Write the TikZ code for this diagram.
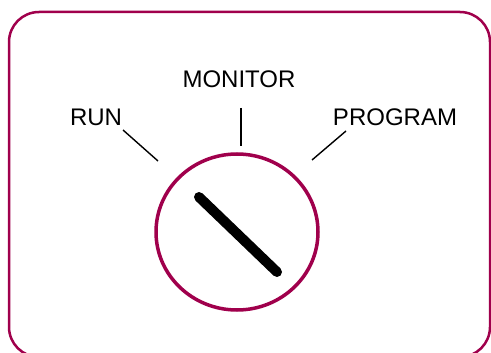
\documentclass[tikz,border=0pt]{standalone}
\usepackage{fontspec}
\setmainfont{Liberation Sans}
\usepackage{tikz}
\usetikzlibrary{shapes.geometric,positioning,calc}
\definecolor{knobMaroon}{RGB}{160,0,76}
\tikzset{
  panelbox/.style={draw=knobMaroon, line width=2.5pt, rounded corners=30pt},
  knob/.style={ellipse, draw=knobMaroon, line width=3.5pt,
               minimum width=162pt, minimum height=156pt, inner sep=0pt},
  modelabel/.style={font=\fontsize{24}{28}\selectfont, inner sep=0pt},
  tick/.style={draw=black, line width=1.4pt},
  pointer/.style={draw=black, line width=10pt, line cap=round}
}
\begin{document}
\begin{tikzpicture}[x=1pt, y=-1pt]
        \useasboundingbox (0,0) rectangle (491,353);
        \draw[panelbox] (9,12) rectangle (490,357);
        \node[knob] (k) at (237,232) {};
        \node[modelabel] (run)  at (96,117)  {RUN};
        \node[modelabel] (mon)  at (239,79)  {MONITOR};
        \node[modelabel] (prog) at (395,117) {PROGRAM};
        % tick marks
        \coordinate (r1) at (123,130); \coordinate (r2) at (158,161);
        \coordinate (m1) at (241,108); \coordinate (m2) at (241,146);
        \coordinate (p1) at (346,131); \coordinate (p2) at (312,160);
        \draw[tick] (r1)--(r2); \draw[tick] (m1)--(m2); \draw[tick] (p1)--(p2);
        % pointer
        \coordinate (a) at (199,197); \coordinate (b) at (277,272);
        \draw[pointer] (a)--(b);
      \end{tikzpicture}
\end{document}
